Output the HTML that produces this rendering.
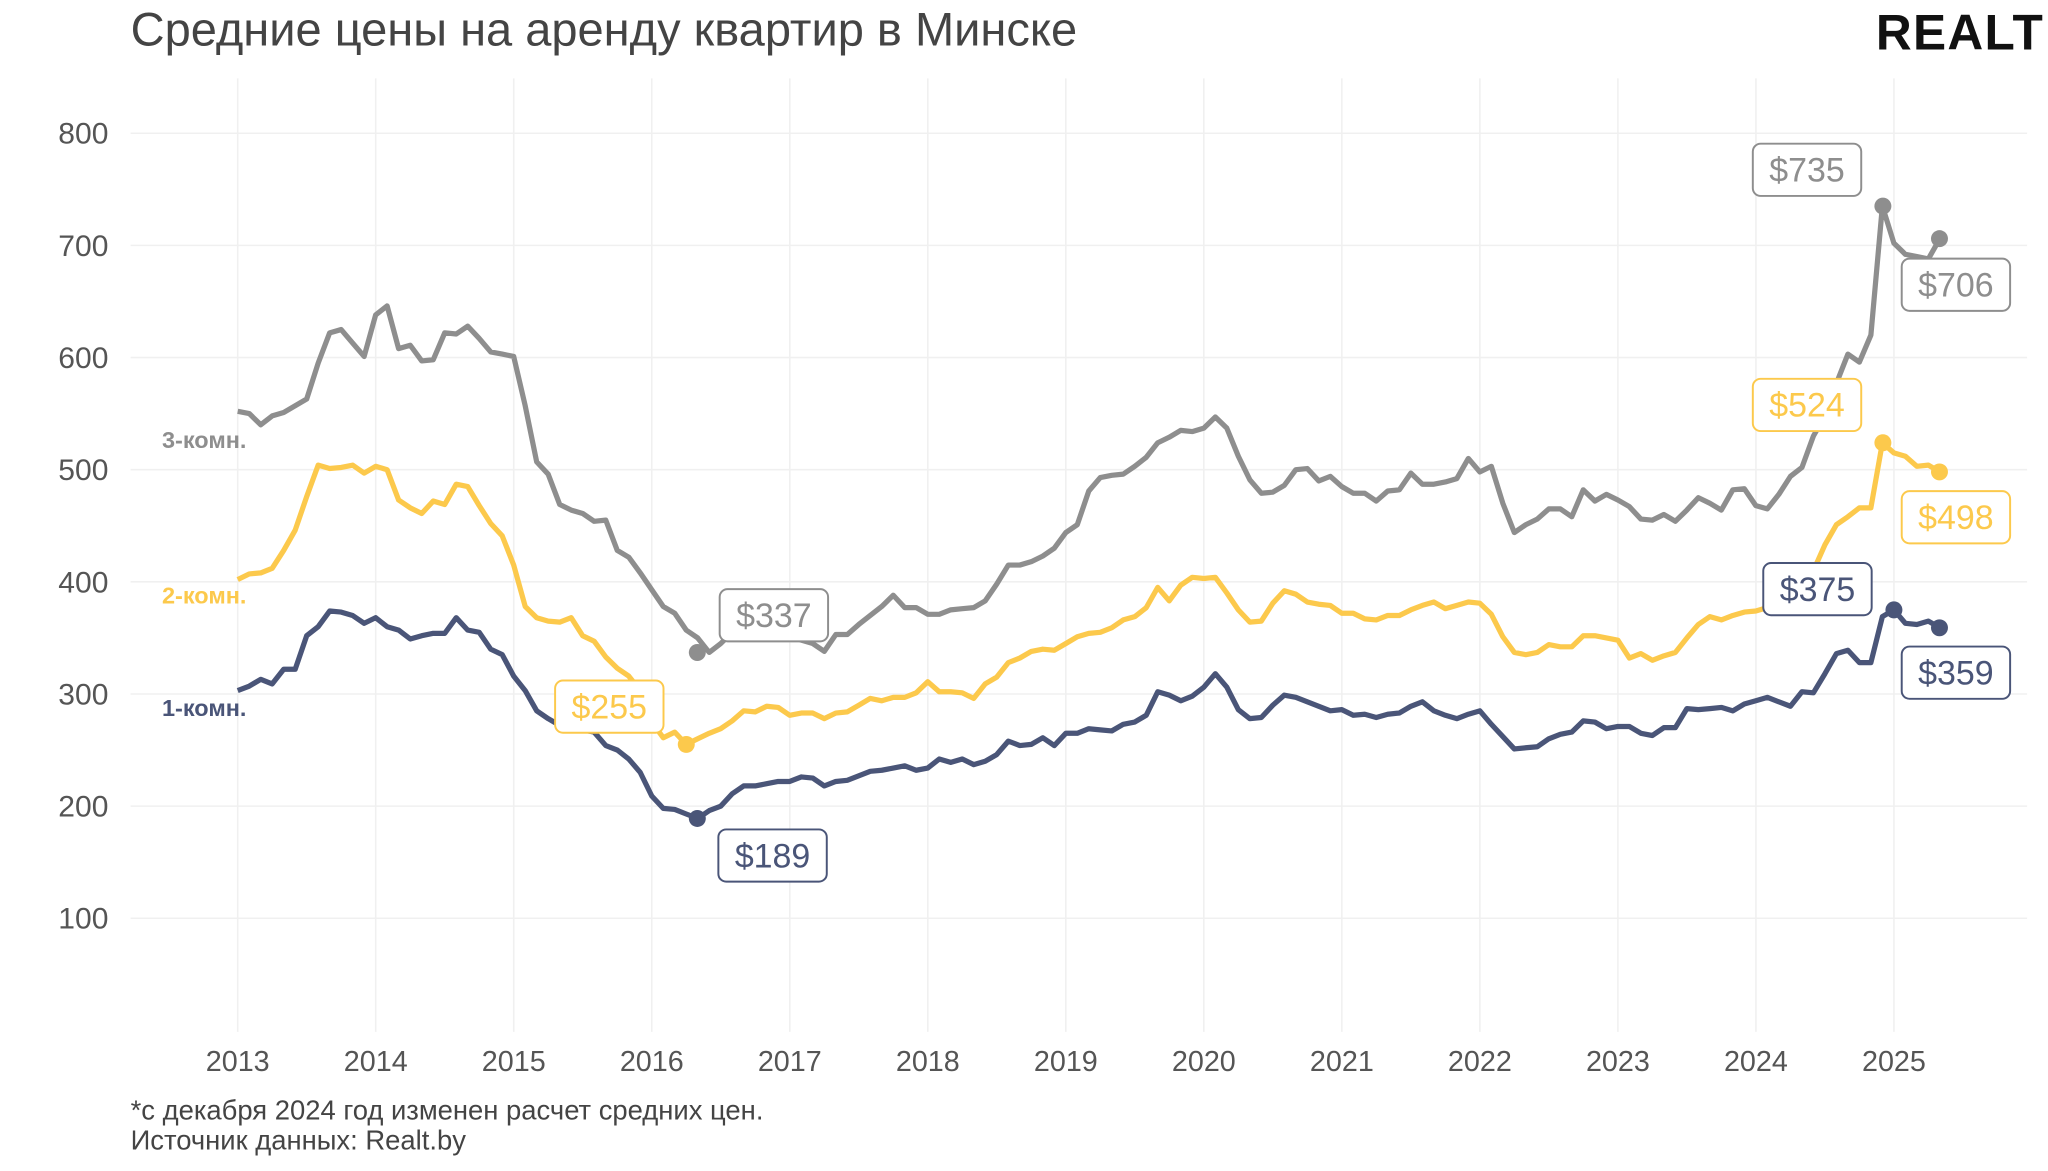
<!DOCTYPE html>
<html><head><meta charset="utf-8"><style>
html,body{margin:0;padding:0;background:#fff;}
svg{display:block;font-family:"Liberation Sans",sans-serif;}
</style></head><body>
<svg id="c" width="2048" height="1171" viewBox="0 0 1568 896.5" xmlns="http://www.w3.org/2000/svg">
<rect width="1568" height="897" fill="#fff"/>
<g id="grid"></g>
<text x="100" y="35" font-size="36" fill="#444" font-weight="300">Средние цены на аренду квартир в Минске</text>
<text x="1565" y="38" font-size="38" fill="#111" font-weight="900" text-anchor="end" letter-spacing="1">REALT</text>
<g id="series"></g>
<g font-size="18" font-weight="bold">
<text x="124" y="343" fill="#8e8e8e">3-комн.</text>
<text x="124" y="462" fill="#fcc94c">2-комн.</text>
<text x="124" y="548" fill="#4a5578">1-комн.</text>
</g>
<g id="labels"></g>
<text x="100" y="857" font-size="21" fill="#444">*с декабря 2024 год изменен расчет средних цен.</text>
<text x="100" y="880" font-size="21" fill="#444">Источник данных: Realt.by</text>
</svg>
<script>
var NS="http://www.w3.org/2000/svg";
function X(t){return 182+(t-2013)*105.67;}
function Y(v){return 102+(800-v)*0.8586;}
function el(tag,a,p,txt){var e=document.createElementNS(NS,tag);for(var k in a)e.setAttribute(k,a[k]);if(txt!==undefined)e.textContent=txt;p.appendChild(e);return e;}
var g=document.getElementById('grid');
for(var v=100;v<=800;v+=100){el('line',{x1:100,x2:1552,y1:Y(v),y2:Y(v),stroke:'#f0f0f0','stroke-width':1.2},g);
el('text',{x:83,y:Y(v)+8,'font-size':23,fill:'#555','text-anchor':'end'},g,String(v));}
for(var y=2013;y<=2025;y++){el('line',{x1:X(y),x2:X(y),y1:60,y2:790,stroke:'#f0f0f0','stroke-width':1.2},g);
el('text',{x:X(y),y:820,'font-size':22,fill:'#555','text-anchor':'middle'},g,String(y));}
var s1=[303,307,313,309,322,322,352,360,374,373,370,363,368,360,357,349,352,354,354,368,357,355,340,335,316,303,285,278,272,270,268,266,254,250,242,230,209,198,197,193,189,196,200,211,218,218,220,222,222,226,225,218,222,223,227,231,232,234,236,232,234,242,239,242,237,240,246,258,254,255,261,254,265,265,269,268,267,273,275,281,302,299,294,298,306,318,306,286,278,279,290,299,297,293,289,285,286,281,282,279,282,283,289,293,285,281,278,282,285,273,262,251,252,253,260,264,266,276,275,269,271,271,265,263,270,270,287,286,287,288,285,291,294,297,293,289,302,301,318,336,339,328,328,369,375,363,362,365,359];
var s2=[402,407,408,412,428,446,476,504,501,502,504,497,503,500,473,466,461,472,469,487,485,468,452,441,415,378,368,365,364,368,352,347,333,323,316,303,275,261,266,255,260,265,269,276,285,284,289,288,281,283,283,278,283,284,290,296,294,297,297,301,311,302,302,301,296,309,315,328,332,338,340,339,345,351,354,355,359,366,369,377,395,383,397,404,403,404,390,375,364,365,381,392,389,382,380,379,372,372,367,366,370,370,375,379,382,376,379,382,381,371,351,337,335,337,344,342,342,352,352,350,348,332,336,330,334,337,350,362,369,366,370,373,374,377,382,386,395,410,433,451,458,466,466,524,515,512,503,504,498];
var s3=[550,540,548,551,557,563,595,622,625,613,601,638,646,608,611,597,598,622,621,628,617,605,603,601,557,507,496,469,464,461,454,455,428,422,408,393,378,372,357,350,337,345,355,360,362,360,358,352,348,345,338,353,353,362,370,378,388,377,377,371,371,375,376,377,383,398,415,415,418,423,430,444,451,481,493,495,496,503,511,524,529,535,534,537,547,537,512,491,479,480,486,500,501,490,494,485,479,479,472,481,482,497,487,487,489,492,510,498,503,470,444,451,456,465,465,458,482,472,478,473,467,456,455,460,454,464,475,470,464,482,483,468,465,478,494,502,530,548,577,603,596,620,735,702,692,690,688,706];
s3.unshift(552);
function path(arr){var n=arr.length,d='';for(var i=0;i<n;i++){var t=2025.333-(n-1-i)/12;d+=(i?'L':'M')+X(t).toFixed(1)+' '+Y(arr[i]).toFixed(1);}return d;}
var S=document.getElementById('series');
var cols=['#8e8e8e','#fcc94c','#4a5578'];
[s3,s2,s1].forEach(function(a,i){el('path',{d:path(a),fill:'none',stroke:cols[i],'stroke-width':4,'stroke-linejoin':'round'},S);});
var dots=[[2016.33,337,0],[2024.92,735,0],[2025.33,706,0],[2016.25,255,1],[2024.92,524,1],[2025.33,498,1],[2016.33,189,2],[2025.0,375,2],[2025.33,359,2]];
dots.forEach(function(d){el('circle',{cx:X(d[0]),cy:Y(d[1]),r:6.5,fill:cols[d[2]]},S);});
var L=document.getElementById('labels');
var labs=[[1342,110,'$735',0],[1456,198,'$706',0],[1342,290,'$524',1],[1456,376,'$498',1],[1350,431,'$375',2],[1456,495,'$359',2],[551,451,'$337',0],[425,521,'$255',1],[550,635,'$189',2]];
labs.forEach(function(b){el('rect',{x:b[0],y:b[1],width:83,height:40,rx:6,fill:'#fff',stroke:cols[b[3]],'stroke-width':1.5},L);
el('text',{x:b[0]+41.5,y:b[1]+29,'font-size':26,fill:cols[b[3]],'text-anchor':'middle'},L,b[2]);});
</script>
</body></html>
